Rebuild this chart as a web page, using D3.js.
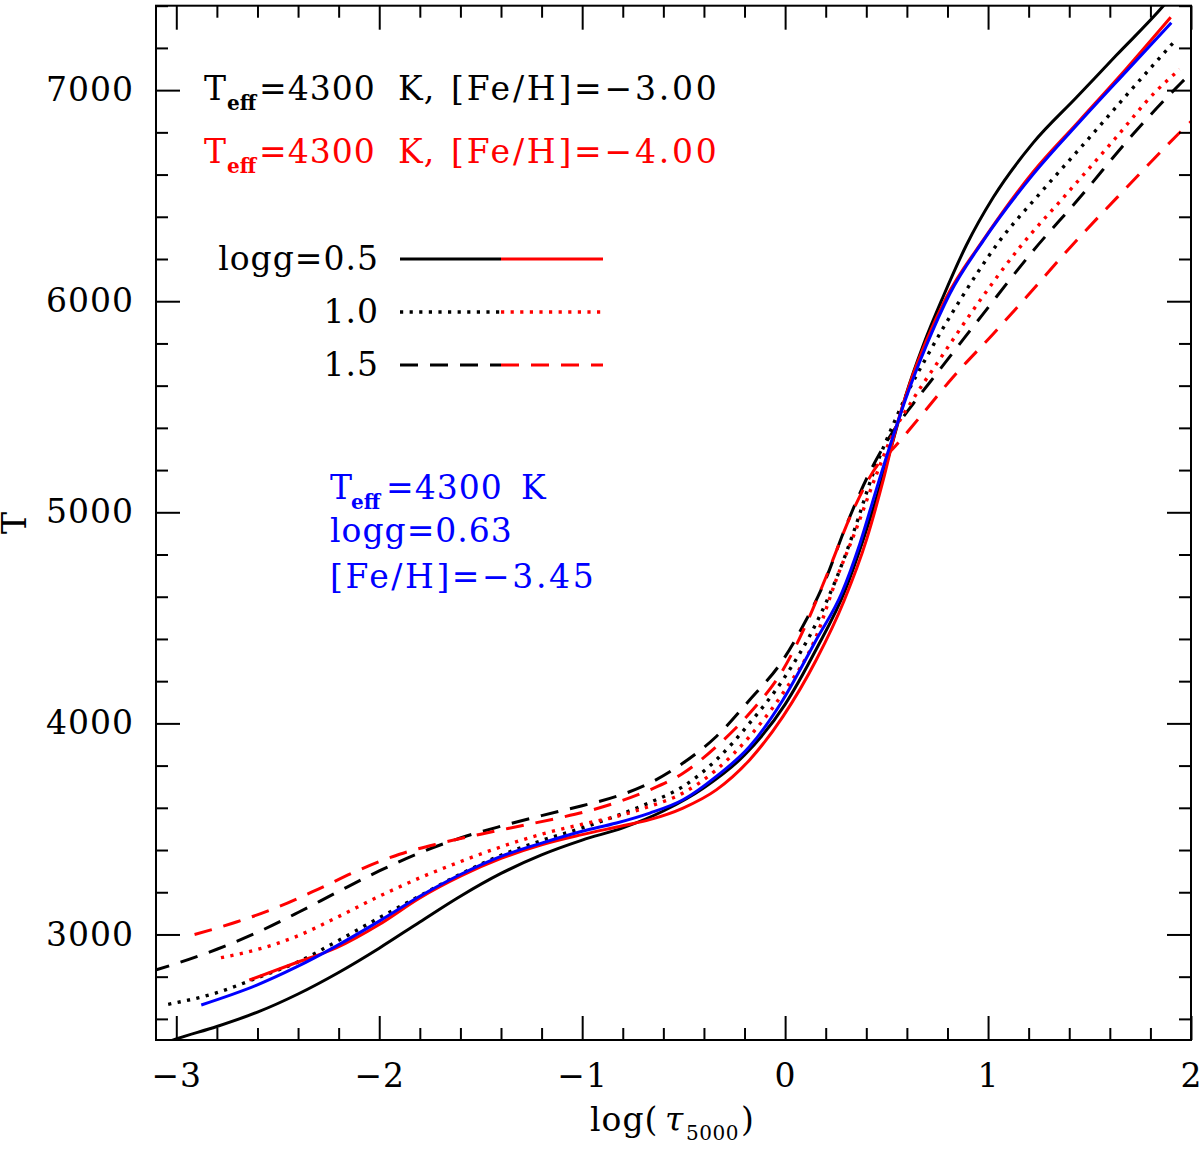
<!DOCTYPE html>
<html><head><meta charset="utf-8">
<script src="https://cdn.jsdelivr.net/npm/d3@7"></script>
<style>
body{margin:0;background:#fff}
svg{display:block}
text{font-family:"DejaVu Serif",serif}
</style>
</head><body>
<svg id="chart" width="1200" height="1149"></svg>
<script>
// ---------- data ----------
const xMajorTicks = [-3, -2, -1, 0, 1, 2];
const yMajorTicks = [3000, 4000, 5000, 6000, 7000];
const legendLabels = ["logg=0.5", "1.0", "1.5"];

// [Fe/H] = -3.00 (black)
const g05_m300 = [[-3.06,2485],[-3.0,2505],[-2.8,2564],[-2.6,2632],[-2.4,2718],[-2.2,2820],[-2.0,2935],[-1.8,3059],[-1.6,3181],[-1.4,3289],[-1.2,3377],[-1.0,3447],[-0.8,3505],[-0.6,3585],[-0.4,3695],[-0.2,3850],[0.0,4090],[0.15,4345],[0.3,4640],[0.384,4867],[0.466,5119],[0.532,5340],[0.597,5561],[0.68,5790],[0.778,6020],[0.893,6265],[1.025,6491],[1.222,6750],[1.435,6965],[1.632,7165],[1.862,7397],[1.9,7440]];
const g10_m300 = [[-3.04,2669],[-2.8,2724],[-2.6,2795],[-2.4,2870],[-2.2,2972],[-2.0,3079],[-1.8,3183],[-1.6,3286],[-1.4,3375],[-1.2,3445],[-1.0,3505],[-0.831,3562],[-0.667,3625],[-0.503,3701],[-0.339,3827],[-0.175,4001],[-0.011,4206],[0.153,4474],[0.25,4680],[0.335,4899],[0.433,5182],[0.53,5410],[0.6,5560],[0.7,5740],[0.86,6002],[1.057,6286],[1.255,6510],[1.485,6759],[1.714,7011],[1.912,7224]];
const g15_m300 = [[-3.12,2826],[-3.0,2862],[-2.8,2930],[-2.6,3010],[-2.4,3104],[-2.2,3204],[-2.0,3301],[-1.8,3387],[-1.6,3457],[-1.4,3513],[-1.2,3563],[-1.0,3610],[-0.831,3654],[-0.667,3717],[-0.503,3812],[-0.339,3938],[-0.175,4111],[-0.011,4300],[0.087,4460],[0.19,4660],[0.302,4940],[0.417,5190],[0.53,5380],[0.63,5513],[0.745,5655],[0.975,5939],[1.222,6239],[1.452,6491],[1.714,6791],[1.952,7035],[2.02,7100]];

// [Fe/H] = -4.00 (red)
const g05_m400 = [[-2.64,2784],[-2.41,2866],[-2.21,2937],[-2.0,3047],[-1.8,3173],[-1.6,3276],[-1.4,3360],[-1.2,3425],[-1.0,3473],[-0.8,3515],[-0.667,3544],[-0.503,3599],[-0.339,3685],[-0.175,3827],[-0.011,4032],[0.153,4300],[0.29,4580],[0.40,4867],[0.483,5151],[0.548,5403],[0.614,5608],[0.696,5813],[0.79,6010],[0.98,6295],[1.22,6610],[1.45,6855],[1.68,7100],[1.90,7345]];
const g10_m400 = [[-2.78,2890],[-2.6,2929],[-2.41,2990],[-2.21,3080],[-2.0,3181],[-1.8,3268],[-1.6,3345],[-1.4,3415],[-1.2,3475],[-1.0,3522],[-0.831,3559],[-0.667,3607],[-0.503,3670],[-0.339,3780],[-0.175,3938],[-0.011,4143],[0.153,4411],[0.251,4679],[0.35,4920],[0.45,5180],[0.54,5390],[0.62,5520],[0.762,5725],[0.95,5990],[1.156,6255],[1.386,6507],[1.616,6759],[1.829,6996],[1.944,7098]];
const g15_m400 = [[-2.91,3000],[-2.7,3060],[-2.5,3130],[-2.3,3215],[-2.1,3305],[-1.9,3380],[-1.7,3432],[-1.5,3475],[-1.3,3515],[-1.1,3555],[-0.95,3590],[-0.831,3625],[-0.667,3685],[-0.503,3764],[-0.339,3890],[-0.175,4048],[-0.011,4253],[0.12,4505],[0.2,4690],[0.335,5009],[0.46,5230],[0.53,5300],[0.663,5450],[0.827,5640],[1.024,5844],[1.189,6020],[1.419,6270],[1.682,6538],[1.936,6791],[2.02,6870]];

// Teff=4300, logg=0.63, [Fe/H]=-3.45 (blue)
const g063_m345 = [[-2.877,2666],[-2.606,2759],[-2.41,2845],[-2.212,2945],[-2.0,3063],[-1.8,3181],[-1.6,3284],[-1.4,3370],[-1.2,3433],[-1.0,3489],[-0.831,3528],[-0.667,3575],[-0.503,3638],[-0.339,3749],[-0.175,3890],[-0.011,4111],[0.153,4395],[0.28,4620],[0.368,4850],[0.45,5110],[0.532,5360],[0.597,5545],[0.696,5790],[0.811,6034],[0.976,6286],[1.222,6601],[1.452,6850],[1.682,7090],[1.903,7319]];

// ---------- setup ----------
const svg = d3.select("#chart");
const M = {left:156, right:1191, top:5.7, bottom:1040};
const x = d3.scaleLinear().domain([-3.1, 2.0]).range([M.left, M.right]);
const y = d3.scaleLinear().domain([2500, 7400]).range([M.bottom, M.top]);

const BLACK = "#000", RED = "#ff0000", BLUE = "#0000ff";
const DASH = "18,12", DOT = "3.2,6.4";
const FS = 33, LS = 1;
const FONT = "DejaVu Serif";

const xMinor = d3.range(-30, 21, 2).map(v => v/10).filter(v => !xMajorTicks.includes(v));
const yMinor = d3.range(2600, 7401, 200).filter(v => !yMajorTicks.includes(v));

svg.append("defs").append("clipPath").attr("id","clip")
  .append("rect").attr("x",M.left).attr("y",M.top)
  .attr("width",M.right-M.left).attr("height",M.bottom-M.top);

// ---------- curves ----------
const line = d3.line().x(d => x(d[0])).y(d => y(d[1])).curve(d3.curveMonotoneX);
const series = [
  {d:g05_m300, c:BLACK, dash:null},
  {d:g10_m300, c:BLACK, dash:DOT},
  {d:g15_m300, c:BLACK, dash:DASH},
  {d:g05_m400, c:RED, dash:null},
  {d:g10_m400, c:RED, dash:DOT},
  {d:g15_m400, c:RED, dash:DASH},
  {d:g063_m345, c:BLUE, dash:null}
];
const cg = svg.append("g").attr("clip-path","url(#clip)");
series.forEach(s => {
  cg.append("path").attr("d", line(s.d)).attr("fill","none")
    .attr("stroke", s.c).attr("stroke-width", s.dash===DOT ? 3.4 : 3)
    .attr("stroke-dasharray", s.dash);
});

// ---------- axes ----------
function styleAxis(g){
  g.select(".domain").remove();
  g.selectAll("line").attr("stroke","#000").attr("stroke-width",2);
  g.selectAll("text").attr("font-family",FONT).attr("font-size",FS)
    .attr("letter-spacing",LS).attr("fill","#000");
}
const fmt = d3.format("d");
svg.append("g").attr("transform",`translate(0,${M.bottom})`)
  .call(d3.axisBottom(x).tickValues(xMajorTicks).tickSize(-24).tickPadding(23.5).tickFormat(fmt)).call(styleAxis);
svg.append("g").attr("transform",`translate(0,${M.bottom})`)
  .call(d3.axisBottom(x).tickValues(xMinor).tickSize(-12).tickFormat("")).call(styleAxis);
svg.append("g").attr("transform",`translate(0,${M.top})`)
  .call(d3.axisTop(x).tickValues(xMajorTicks).tickSize(-24).tickFormat("")).call(styleAxis);
svg.append("g").attr("transform",`translate(0,${M.top})`)
  .call(d3.axisTop(x).tickValues(xMinor).tickSize(-12).tickFormat("")).call(styleAxis);
svg.append("g").attr("transform",`translate(${M.left},0)`)
  .call(d3.axisLeft(y).tickValues(yMajorTicks).tickSize(-24).tickPadding(22).tickFormat(fmt)).call(styleAxis);
svg.append("g").attr("transform",`translate(${M.left},0)`)
  .call(d3.axisLeft(y).tickValues(yMinor).tickSize(-12).tickFormat("")).call(styleAxis);
svg.append("g").attr("transform",`translate(${M.right},0)`)
  .call(d3.axisRight(y).tickValues(yMajorTicks).tickSize(-24).tickFormat("")).call(styleAxis);
svg.append("g").attr("transform",`translate(${M.right},0)`)
  .call(d3.axisRight(y).tickValues(yMinor).tickSize(-12).tickFormat("")).call(styleAxis);

svg.append("rect").attr("x",M.left).attr("y",M.top)
  .attr("width",M.right-M.left).attr("height",M.bottom-M.top)
  .attr("fill","none").attr("stroke","#000").attr("stroke-width",2);

// ---------- text helpers ----------
function rich(x0, y0, parts, color, anchor){
  const t = svg.append("text").attr("x",x0).attr("y",y0).attr("fill",color)
    .attr("font-family",FONT).attr("font-size",FS).attr("letter-spacing",LS).attr("text-anchor",anchor||"start");
  parts.forEach(p => {
    const s = t.append("tspan").text(p.t);
    if (p.x !== undefined) s.attr("x", p.x);
    if (p.sub) {
      s.attr("y", y0 + (p.dy||10)).attr("font-size", p.fs||20)
       .attr("letter-spacing", p.ls!==undefined ? p.ls : 0)
       .attr("font-weight", p.bold===false ? "normal" : "bold");
    } else {
      s.attr("y", y0);
      if (p.ls !== undefined) s.attr("letter-spacing", p.ls);
    }
    if (p.italic) s.attr("font-style","italic");
  });
  return t;
}

// header texts
rich(204, 100, [{t:"T"},{t:"eff",sub:true,x:227},{t:"=4300",x:259},{t:"K,",x:398},{t:"[Fe/H]=\u22123.00",x:451,ls:2.8}], BLACK);
rich(204, 163, [{t:"T"},{t:"eff",sub:true,x:227},{t:"=4300",x:259},{t:"K,",x:398},{t:"[Fe/H]=\u22124.00",x:451,ls:2.8}], RED);

// legend
const legY = [259, 312, 365];
const legDash = [null, DOT, DASH];
legendLabels.forEach((lab, i) => {
  svg.append("text").attr("x",379).attr("y",legY[i]+11).attr("text-anchor","end")
    .attr("font-family",FONT).attr("font-size",FS).attr("letter-spacing",LS).attr("fill","#000").text(lab);
  svg.append("line").attr("x1",400).attr("x2",501).attr("y1",legY[i]).attr("y2",legY[i])
    .attr("stroke",BLACK).attr("stroke-width", legDash[i]===DOT?3.4:3).attr("stroke-dasharray",legDash[i]);
  svg.append("line").attr("x1",501).attr("x2",603).attr("y1",legY[i]).attr("y2",legY[i])
    .attr("stroke",RED).attr("stroke-width", legDash[i]===DOT?3.4:3).attr("stroke-dasharray",legDash[i]);
});

// blue annotation
rich(330, 499, [{t:"T"},{t:"eff",sub:true,x:351},{t:"=4300",x:386},{t:"K",x:521}], BLUE);
rich(330, 542, [{t:"logg=0.63"}], BLUE);
rich(330, 588, [{t:"[Fe/H]=\u22123.45", ls:2.6}], BLUE);

// axis titles
rich(590, 1131, [{t:"log("},{t:"\u03c4",x:665,italic:true},{t:"5000",sub:true,x:686,fs:20,ls:0.5,bold:false,dy:9},{t:")",x:741}], BLACK);
svg.append("text").attr("transform","translate(26,523) rotate(-90)").attr("text-anchor","middle")
  .attr("font-family",FONT).attr("font-size",FS).attr("fill","#000").text("T");
</script>
</body></html>
